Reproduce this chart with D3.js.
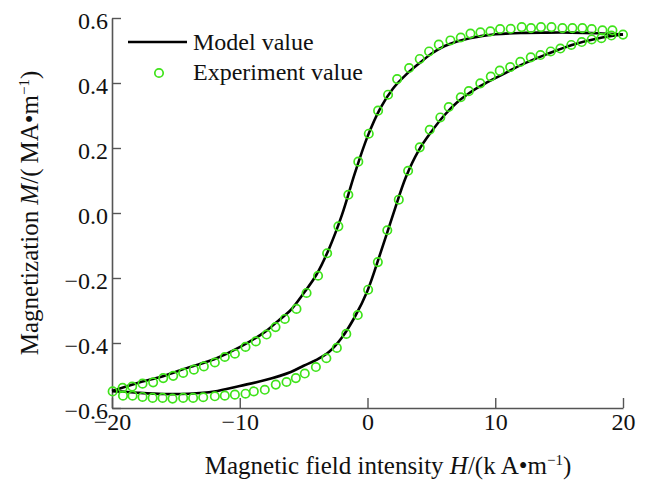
<!DOCTYPE html>
<html>
<head>
<meta charset="utf-8">
<script src="https://cdn.jsdelivr.net/npm/d3@7"></script>
<style>
  html, body { margin: 0; padding: 0; background: #fff; }
  svg { display: block; }
  text { font-family: "Liberation Serif", "Times New Roman", serif; fill: #111; }
</style>
</head>
<body>
<svg id="chart" width="646" height="482"></svg>
<script>
// Hysteresis loop: descending (upper) and ascending (lower) branches
// Experiment points, H in kA/m, M in MA/m
const expUpperH = [20.0, 19.17, 18.39, 17.55, 16.82, 16.04, 15.26, 14.40, 13.58, 12.80, 12.07, 11.21, 10.38, 9.62, 8.84, 8.06, 7.30, 6.49, 5.58, 4.82, 4.09, 3.26, 2.32, 1.61, 0.83, 0.10, -0.72, -1.50, -2.28, -3.16, -3.87, -4.77, -5.56, -6.47, -7.20, -7.90, -8.74, -9.55, -10.38, -11.17, -11.95, -12.81, -13.59, -14.43, -15.21, -15.99, -16.78, -17.61, -18.42, -19.17, -19.95];
const expUpperM = [0.549, 0.562, 0.562, 0.566, 0.569, 0.569, 0.569, 0.572, 0.572, 0.569, 0.572, 0.567, 0.566, 0.559, 0.556, 0.552, 0.540, 0.531, 0.518, 0.497, 0.474, 0.446, 0.412, 0.364, 0.315, 0.244, 0.158, 0.056, -0.041, -0.124, -0.193, -0.246, -0.295, -0.326, -0.351, -0.374, -0.395, -0.412, -0.433, -0.443, -0.460, -0.472, -0.482, -0.492, -0.501, -0.508, -0.521, -0.525, -0.534, -0.538, -0.549];

const expLowerH = [-19.14, -18.39, -17.61, -16.82, -16.04, -15.26, -14.43, -13.65, -12.86, -11.95, -11.17, -10.38, -9.55, -8.90, -8.04, -7.18, -6.34, -5.61, -4.91, -4.04, -3.22, -2.40, -1.66, -0.76, 0.05, 0.81, 1.55, 2.45, 3.18, 4.09, 4.87, 5.70, 6.36, 7.30, 7.93, 8.83, 9.65, 10.35, 11.17, 11.96, 12.78, 13.54, 14.34, 15.10, 15.95, 16.77, 17.55, 18.31, 19.09];
const expLowerM = [-0.562, -0.562, -0.566, -0.569, -0.569, -0.571, -0.569, -0.569, -0.567, -0.564, -0.562, -0.559, -0.556, -0.549, -0.544, -0.528, -0.520, -0.508, -0.494, -0.474, -0.447, -0.415, -0.372, -0.314, -0.236, -0.151, -0.053, 0.041, 0.130, 0.202, 0.256, 0.294, 0.326, 0.356, 0.375, 0.399, 0.420, 0.438, 0.449, 0.465, 0.479, 0.486, 0.497, 0.506, 0.517, 0.526, 0.534, 0.538, 0.546];

// Model curve
const modelUpperH = [20, 18, 16, 14, 12, 10, 9, 8, 7, 6, 5, 4, 3, 2, 1, 0, -1, -2, -3, -4, -5, -6, -7, -8, -10, -12, -14, -16, -18, -20];
const modelUpperM = [0.549, 0.553, 0.555, 0.555, 0.554, 0.550, 0.545, 0.538, 0.528, 0.513, 0.490, 0.459, 0.425, 0.383, 0.322, 0.235, 0.121, -0.006, -0.109, -0.190, -0.247, -0.298, -0.332, -0.365, -0.413, -0.450, -0.475, -0.502, -0.523, -0.548];

const modelLowerH = [-20, -19, -18, -16, -14, -12, -10, -8, -6, -5, -4, -3, -2, -1, 0, 1, 2, 3, 4, 5, 6, 7, 8, 9, 10, 11, 12, 14, 16, 18, 20];
const modelLowerM = [-0.548, -0.550, -0.553, -0.557, -0.556, -0.549, -0.532, -0.514, -0.489, -0.470, -0.452, -0.427, -0.383, -0.320, -0.239, -0.125, -0.005, 0.110, 0.192, 0.250, 0.300, 0.340, 0.370, 0.394, 0.415, 0.435, 0.455, 0.488, 0.517, 0.537, 0.549];

const xTicks = [-20, -10, 0, 10, 20];
const yTicks = [-0.6, -0.4, -0.2, 0.0, 0.2, 0.4, 0.6];
const legendLabels = ["Model value", "Experiment value"];

const green = "#3fe31a";
const serif = '"Liberation Serif", "Times New Roman", serif';
const tickSize = 24;
const titleSize = 25;

const svg = d3.select("#chart");
const plot = { left: 112, right: 623, top: 18, bottom: 408 };

const x = d3.scaleLinear().domain([-20, 20]).range([plot.left, plot.right]);
const y = d3.scaleLinear().domain([-0.6, 0.6]).range([plot.bottom, plot.top]);

const zip = (hs, ms) => hs.map((h, i) => ({ h, m: ms[i] }));

// Axes with inward ticks
const xAxis = d3.axisBottom(x).tickValues(xTicks).tickSizeInner(-10).tickSizeOuter(0).tickPadding(5)
  .tickFormat(d3.format("d"));
const yAxis = d3.axisLeft(y).tickValues(yTicks).tickSizeInner(-9).tickSizeOuter(0).tickPadding(4)
  .tickFormat(d3.format(".1f"));

function styleAxis(g) {
  g.attr("font-family", serif).attr("font-size", tickSize);
  g.selectAll("path.domain").attr("stroke", "#555").attr("stroke-width", 1.6);
  g.selectAll(".tick line").attr("stroke", "#555").attr("stroke-width", 1.4);
  g.selectAll(".tick text")
    .attr("fill", "#111")
    .attr("font-family", serif)
    .style("font-family", serif)
    .style("font-size", tickSize + "px");
}

svg.append("g").attr("transform", `translate(0,${plot.bottom})`).call(xAxis).call(styleAxis);
svg.append("g").attr("transform", `translate(${plot.left},0)`).call(yAxis).call(styleAxis)
  .selectAll(".tick text").attr("dy", "0.45em");

// Model curves
const line = d3.line().x(d => x(d.h)).y(d => y(d.m)).curve(d3.curveCatmullRom.alpha(0.5));
[zip(modelUpperH, modelUpperM), zip(modelLowerH, modelLowerM)].forEach(data => {
  svg.append("path").datum(data)
    .attr("d", line)
    .attr("fill", "none")
    .attr("stroke", "#000")
    .attr("stroke-width", 2.6)
    .attr("stroke-linejoin", "round");
});

// Experiment points
const pts = zip(expUpperH, expUpperM).concat(zip(expLowerH, expLowerM));
svg.append("g").selectAll("circle").data(pts).join("circle")
  .attr("cx", d => x(d.h))
  .attr("cy", d => y(d.m))
  .attr("r", 4.2)
  .attr("fill", "none")
  .attr("stroke", green)
  .attr("stroke-width", 1.7);

// Legend
const legend = svg.append("g");
legend.append("line").attr("x1", 128).attr("x2", 187).attr("y1", 42).attr("y2", 42)
  .attr("stroke", "#000").attr("stroke-width", 2.6);
legend.append("text").attr("x", 193).attr("y", 50).style("font-size", tickSize + "px").text(legendLabels[0]);
legend.append("circle").attr("cx", 159).attr("cy", 73).attr("r", 4.2)
  .attr("fill", "none").attr("stroke", green).attr("stroke-width", 1.7);
legend.append("text").attr("x", 193).attr("y", 80).style("font-size", tickSize + "px").text(legendLabels[1]);

// Axis titles
const xt = svg.append("text").attr("x", 388).attr("y", 474).attr("text-anchor", "middle")
  .style("font-size", titleSize + "px");
xt.append("tspan").text("Magnetic field intensity ");
xt.append("tspan").attr("font-style", "italic").text("H");
xt.append("tspan").text("/(k\u2009A\u2022m");
xt.append("tspan").attr("dy", -9).style("font-size", "15px").text("\u22121");
xt.append("tspan").attr("dy", 9).text(")");

const yt = svg.append("text").attr("transform", "translate(38,213) rotate(-90)")
  .attr("text-anchor", "middle").style("font-size", titleSize + "px");
yt.append("tspan").text("Magnetization ");
yt.append("tspan").attr("font-style", "italic").text("M");
yt.append("tspan").text("/(\u2009MA\u2022m");
yt.append("tspan").attr("dy", -9).style("font-size", "15px").text("\u22121");
yt.append("tspan").attr("dy", 9).text(")");
</script>
</body>
</html>
